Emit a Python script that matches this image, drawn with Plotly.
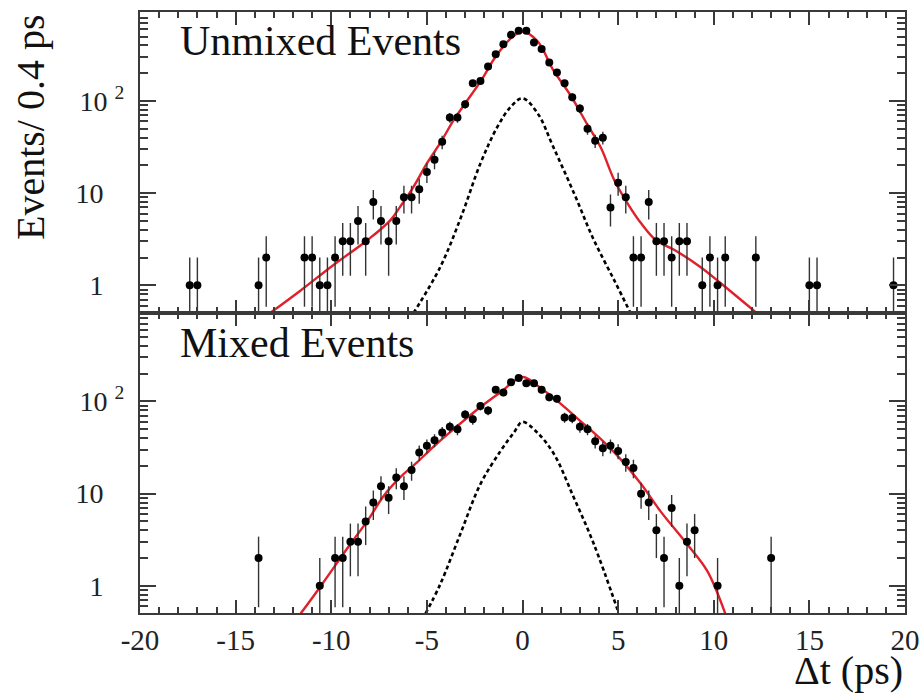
import numpy as np
import plotly.graph_objects as go

# ---------------- data ----------------
unmixed_x = [-17.4, -17.0, -13.8, -13.4, -11.4, -11.0, -10.6, -10.2, -9.8, -9.4, -9.0, -8.6, -8.2,
             -7.8, -7.4, -7.0, -6.6, -6.2, -5.8, -5.4, -5.0, -4.6, -4.2, -3.8, -3.4, -3.0, -2.6,
             -2.2, -1.8, -1.4, -1.0, -0.6, -0.2, 0.2, 0.6, 1.0, 1.4, 1.8, 2.2, 2.6, 3.0, 3.4, 3.8,
             4.2, 4.6, 5.0, 5.4, 5.8, 6.2, 6.6, 7.0, 7.4, 7.8, 8.2, 8.6, 9.4, 9.8, 10.2, 10.6,
             12.2, 15.0, 15.4, 19.4]
unmixed_n = [1, 1, 1, 2, 2, 2, 1, 1, 2, 3, 3, 5, 3,
             8, 5, 3, 5, 9, 9, 11, 17, 23, 36, 66, 66, 92, 156,
             165, 236, 322, 413, 522, 577, 577, 430, 365, 261, 203, 156, 110, 83, 50, 37,
             40, 7, 13, 9, 2, 2, 8, 3, 3, 2, 3, 3, 1, 2, 1, 2,
             2, 1, 1, 1]

mixed_x = [-13.8, -10.6, -9.8, -9.4, -9.0, -8.6, -8.2, -7.8, -7.4, -7.0, -6.6, -6.2, -5.8, -5.4,
           -5.0, -4.6, -4.2, -3.8, -3.4, -3.0, -2.6, -2.2, -1.8, -1.4, -1.0, -0.6, -0.2, 0.2,
           0.6, 1.0, 1.4, 1.8, 2.2, 2.6, 3.0, 3.4, 3.8, 4.2, 4.6, 5.0, 5.4, 5.8, 6.2, 6.6,
           7.0, 7.4, 7.8, 8.2, 8.6, 9.0, 10.2, 13.0]
mixed_n = [2, 1, 2, 2, 3, 3, 5, 8, 12, 9, 15, 12, 18, 28,
           33, 38, 46, 53, 50, 72, 64, 89, 80, 134, 125, 162, 180, 158,
           158, 134, 111, 107, 67, 66, 53, 50, 37, 31, 33, 29, 22, 19, 10, 8,
           4, 2, 7, 1, 3, 4, 1, 2]

# fitted curves
unmixed_fit_x = [-13.2, -11.6, -9.9, -8.1, -6.9, -6.4, -5.7, -5.0, -4.3, -3.6, -3.0, -2.2, -1.4,
                 -0.6, 0.0, 0.8, 1.6, 2.5, 3.4, 4.1, 4.8, 5.5, 6.2, 7.0, 7.9, 9.3, 10.4, 12.25]
unmixed_fit_y = [0.5, 0.88, 1.65, 3.1, 5.1, 7.1, 11.7, 21, 35, 62, 94, 162, 303,
                 480, 566, 441, 217, 116, 55, 31, 13.8, 7.7, 4.7, 3.05, 2.45, 1.58, 1.04, 0.5]
unmixed_res_x = [-5.7, -4.3, -3.2, -2.2, -1.3, -0.6, 0.0, 0.8, 1.6, 2.7, 3.7, 4.8, 5.65]
unmixed_res_y = [0.5, 1.58, 5.6, 21, 53, 87, 107, 73, 32, 9.9, 3.2, 1.13, 0.5]

mixed_fit_x = [-11.6, -10.6, -9.0, -8.1, -7.25, -6.4, -5.5, -4.6, -3.6, -2.2, -1.15, 0.0, 0.77,
               1.8, 3.0, 4.1, 5.1, 6.2, 7.2, 8.6, 9.65, 10.6]
mixed_fit_y = [0.5, 0.96, 2.84, 5.1, 9.5, 15, 22, 33, 50, 87, 126, 184, 149,
               102, 62, 39, 24, 12.7, 6.5, 2.84, 1.46, 0.5]
mixed_res_x = [-5.07, -4.3, -3.24, -2.2, -1.15, -0.45, 0.0, 0.77, 1.64, 2.68, 3.73, 4.97]
mixed_res_y = [0.5, 1.04, 3.7, 12.7, 29, 46, 60, 46, 27, 9.1, 2.84, 0.55]

x_tickvals = [-20, -15, -10, -5, 0, 5, 10, 15, 20]
x_ticktext = ["-20", "-15", "-10", "-5", "0", "5", "10", "15", "20"]
x_minorvals = list(range(-20, 21))
y_tickvals = [1, 10, 100]
y_ticktext = ["1\u00a0\u00a0\u00a0", "10\u00a0\u00a0\u00a0", "10 <sup>2</sup>"]
y_minorvals = [m * 10 ** e for e in (-1, 0, 1, 2) for m in range(2, 10)]

# ---------------- figure ----------------
FONT = "Liberation Serif"
RED = "#e0202a"
AX = "#3a3a3a"
XR = [-20, 20]
YR = [-0.295, 2.965]

fig = go.Figure()


def add_panel(xs, ns, fx, fy, rx, ry, xa, ya, xo, yo):
    n = np.array(ns, dtype=float)
    err = np.sqrt(n)
    errm = np.where(err >= n, n * 0.999, err)
    # curves on the base subplot
    fig.add_trace(go.Scatter(x=rx, y=ry, mode="lines", line=dict(color="black", width=2.6, dash="4px,3px"),
                             line_shape="spline", xaxis=xa, yaxis=ya, hoverinfo="skip"))
    fig.add_trace(go.Scatter(x=fx, y=fy, mode="lines", line=dict(color=RED, width=2.4),
                             line_shape="spline", xaxis=xa, yaxis=ya))
    # data points on the overlay subplot (same ranges), drawn on top
    fig.add_trace(go.Scatter(x=xs, y=ns, mode="markers",
                             marker=dict(color="black", size=8),
                             error_y=dict(type="data", array=err, arrayminus=errm, width=0,
                                          thickness=1.4, color="#333"),
                             xaxis=xo, yaxis=yo))


add_panel(unmixed_x, unmixed_n, unmixed_fit_x, unmixed_fit_y, unmixed_res_x, unmixed_res_y,
          "x", "y", "x3", "y3")
add_panel(mixed_x, mixed_n, mixed_fit_x, mixed_fit_y, mixed_res_x, mixed_res_y,
          "x2", "y2", "x4", "y4")

common = dict(showline=True, linecolor=AX, linewidth=2, mirror="allticks", ticks="inside",
              tickwidth=1.5, tickcolor=AX, tickmode="array", showgrid=False, zeroline=False,
              automargin=False)
# base axes: major ticks and labels
xmajor = dict(common, range=XR, ticklen=13, tickvals=x_tickvals, ticktext=x_ticktext,
              ticklabeloverflow="allow", tickfont=dict(family=FONT, size=29, color="#222"))
ymajor = dict(common, type="log", range=YR, ticklen=16, tickvals=y_tickvals, ticktext=y_ticktext,
              tickfont=dict(family=FONT, size=28, color="#222"), ticklabelstandoff=8)
# overlay axes: minor ticks only
xminor = dict(common, range=XR, ticklen=6, tickvals=x_minorvals, showticklabels=False)
yminor = dict(common, type="log", range=YR, ticklen=8, tickvals=y_minorvals, showticklabels=False)

fig.update_layout(
    width=919, height=693,
    margin=dict(l=140, r=14, t=12, b=80, autoexpand=False),
    paper_bgcolor="white", plot_bgcolor="white",
    showlegend=False,
    xaxis=dict(xmajor, anchor="y", showticklabels=False),
    yaxis=dict(ymajor, domain=[0.5, 1.0], anchor="x"),
    xaxis2=dict(xmajor, anchor="y2"),
    yaxis2=dict(ymajor, domain=[0.0, 0.5], anchor="x2"),
    xaxis3=dict(xminor, anchor="y3", overlaying="x"),
    yaxis3=dict(yminor, anchor="x3", overlaying="y"),
    xaxis4=dict(xminor, anchor="y4", overlaying="x2"),
    yaxis4=dict(yminor, anchor="x4", overlaying="y2"),
)

fig.add_annotation(text="Unmixed Events", xref="paper", yref="paper", x=38 / 765, y=1 - 4 / 601,
                   xanchor="left", yanchor="top", showarrow=False,
                   font=dict(family=FONT, size=42, color="#111"))
fig.add_annotation(text="Mixed Events", xref="paper", yref="paper", x=38 / 765, y=0.5 - 5 / 601,
                   xanchor="left", yanchor="top", showarrow=False,
                   font=dict(family=FONT, size=42, color="#111"))
fig.add_annotation(text="Δt (ps)", xref="paper", yref="paper", x=1.0, y=-57 / 601,
                   xanchor="right", yanchor="middle", showarrow=False,
                   font=dict(family=FONT, size=40, color="#111"))
fig.add_annotation(text="Events/ 0.4 ps", xref="paper", yref="paper", x=-110 / 765, y=1.0,
                   xanchor="center", yanchor="top", showarrow=False, textangle=-90,
                   font=dict(family=FONT, size=40, color="#111"))

fig.write_html("out.html")
